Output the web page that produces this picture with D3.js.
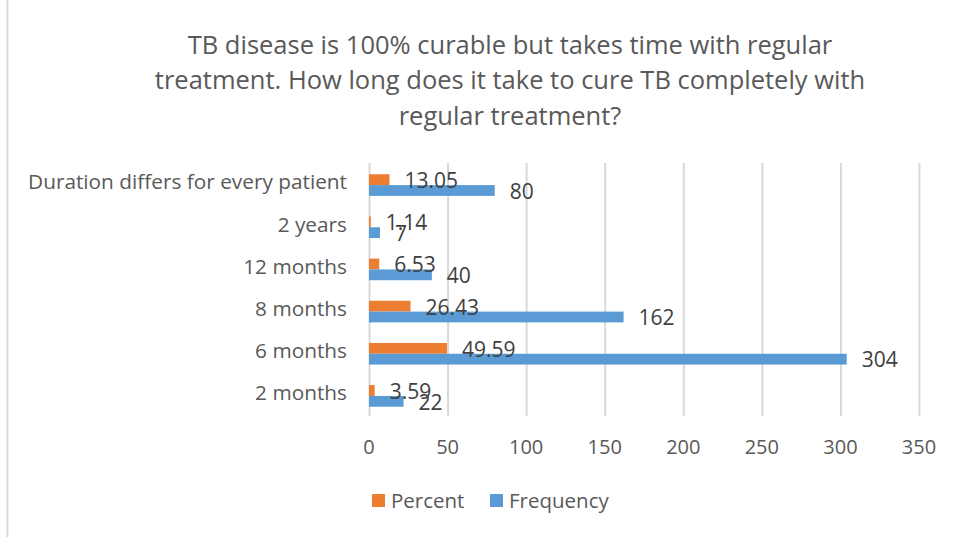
<!DOCTYPE html>
<html>
<head>
  <meta charset='utf-8'>
  <title>TB cure duration</title>
  <script src="https://cdn.jsdelivr.net/npm/d3@7"></script>
  <style>
    body { margin: 0; background: #fff; }
    text { font-family: "Open Sans", sans-serif; fill: #595959; }
  </style>
</head>
<body>
  <svg width="956" height="537" id="chart"></svg>
  <script>
    // data (top row first)
    const categories = ["Duration differs for every patient", "2 years", "12 months", "8 months", "6 months", "2 months"];
    const percent = [13.05, 1.14, 6.53, 26.43, 49.59, 3.59];
    const frequency = [80, 7, 40, 162, 304, 22];
    const seriesNames = ["Percent", "Frequency"];
    const colors = { Percent: "#ED7D31", Frequency: "#5B9BD5" };
    const xTicks = [0, 50, 100, 150, 200, 250, 300, 350];
    const titleLines = [
      "TB disease is 100% curable but takes time with regular",
      "treatment. How long does it take to cure TB completely with",
      "regular treatment?"
    ];

    const rows = categories.map((c, i) => ({ cat: c, Percent: percent[i], Frequency: frequency[i] }));

    const svg = d3.select('#chart');

    // frame line on the left
    svg.append('line')
      .attr('x1', 7.5).attr('x2', 7.5)
      .attr('y1', 0).attr('y2', 537)
      .attr('stroke', '#d9d9d9').attr('stroke-width', 2);

    svg.append('g')
      .selectAll('text')
      .data(titleLines)
      .join('text')
      .attr('x', 510)
      .attr('y', (d, i) => 45 + i * 35.5)
      .attr('dy', '0.35em')
      .attr('text-anchor', 'middle')
      .style('font-size', '25.5px')
      .text(d => d);

    const x = d3.scaleLinear().domain([0, 350]).range([369, 919]);
    const y = d3.scaleBand().domain(categories).range([163, 416]).padding(0);
    const sub = d3.scaleBand().domain(seriesNames).range([0, y.bandwidth()]).paddingOuter(0.95);

    // gridlines
    svg.append('g')
      .selectAll('line')
      .data(xTicks)
      .join('line')
      .attr('x1', d => x(d) + 0.5).attr('x2', d => x(d) + 0.5)
      .attr('y1', 163).attr('y2', 416)
      .attr('stroke', '#d9d9d9').attr('stroke-width', 2);

    // x tick labels
    svg.append('g')
      .selectAll('text')
      .data(xTicks)
      .join('text')
      .attr('x', d => x(d))
      .attr('y', 447)
      .attr('dy', '0.35em')
      .attr('text-anchor', 'middle')
      .style('font-size', '20px')
      .text(d => d);

    // category labels
    svg.append('g')
      .selectAll('text')
      .data(categories)
      .join('text')
      .attr('x', 347)
      .attr('y', d => y(d) + y.bandwidth() / 2 - 2)
      .attr('dy', '0.35em')
      .attr('text-anchor', 'end')
      .style('font-size', '20.8px')
      .text(d => d);

    const groups = svg.append('g')
      .selectAll('g')
      .data(rows)
      .join('g')
      .attr('transform', d => `translate(0,${y(d.cat) + 1})`);

    groups.selectAll('rect')
      .data(d => seriesNames.map(k => ({ key: k, value: d[k] })))
      .join('rect')
      .attr('x', x(0))
      .attr('y', d => sub(d.key))
      .attr('width', d => x(d.value) - x(0))
      .attr('height', sub.bandwidth())
      .attr('fill', d => colors[d.key]);

    groups.selectAll('text')
      .data(d => seriesNames.map(k => ({ key: k, value: d[k] })))
      .join('text')
      .attr('x', d => x(d.value) + 15)
      .attr('y', d => sub(d.key) + sub.bandwidth() / 2 + 1)
      .attr('dy', '0.35em')
      .style('font-size', '21px')
      .style('fill', '#404040')
      .text(d => d.key === "Percent" ? d3.format('.2f')(d.value) : d.value);

    // legend
    const legendX = [372, 490];
    const legend = svg.append('g')
      .selectAll('g')
      .data(seriesNames)
      .join('g')
      .attr('transform', (d, i) => `translate(${legendX[i]},494)`);
    legend.append('rect')
      .attr('width', 13).attr('height', 13)
      .attr('fill', d => colors[d]);
    legend.append('text')
      .attr('x', 19).attr('y', 7)
      .attr('dy', '0.35em')
      .style('font-size', '20.5px')
      .text(d => d);
  </script>
</body>
</html>
